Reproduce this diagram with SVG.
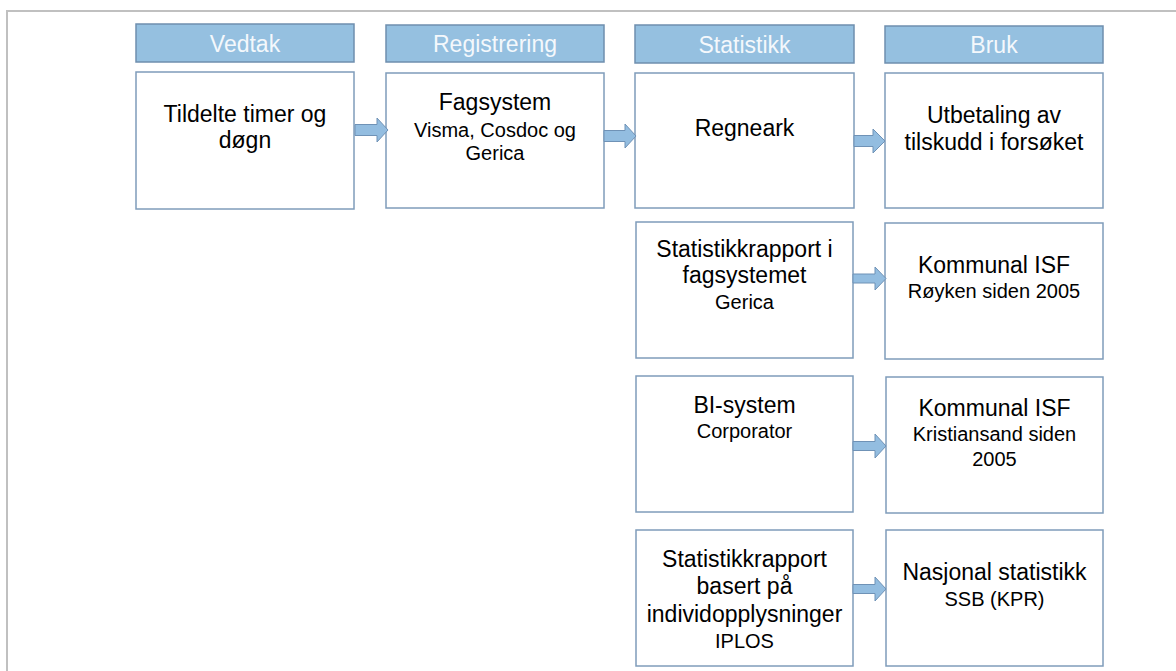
<svg xmlns="http://www.w3.org/2000/svg" width="1176" height="671" viewBox="0 0 1176 671">
<style>
.frame{fill:none;stroke:#c0c0c0;stroke-width:2}
.hdr{fill:#95c0e0;stroke:#6f8fae;stroke-width:1.5}
.box{fill:#ffffff;stroke:#7f9cba;stroke-width:1.5}
.arr{fill:#93bde0;stroke:#6f92b6;stroke-width:1}
.ht{font-family:"Liberation Sans",Arial,sans-serif;font-size:23px;fill:#f4f8fc;text-anchor:middle}
.t{font-family:"Liberation Sans",Arial,sans-serif;font-size:23px;fill:#000;text-anchor:middle}
.s{font-family:"Liberation Sans",Arial,sans-serif;font-size:20px;fill:#000;text-anchor:middle}
</style>
<rect width="1176" height="671" fill="#ffffff"/>
<path class="frame" d="M7,671 V11 H1176"/>
<g id="hdr-vedtak"><rect class="hdr" x="136" y="24" width="218" height="38"/><text class="ht" x="245" y="52">Vedtak</text></g>
<g id="hdr-registrering"><rect class="hdr" x="386" y="25" width="218" height="37"/><text class="ht" x="495" y="52">Registrering</text></g>
<g id="hdr-statistikk"><rect class="hdr" x="635" y="25" width="219" height="38"/><text class="ht" x="744.5" y="52.5">Statistikk</text></g>
<g id="hdr-bruk"><rect class="hdr" x="885" y="26" width="218" height="37"/><text class="ht" x="994" y="53">Bruk</text></g>

<g id="n-vedtak"><rect class="box" x="136" y="72" width="218" height="137"/><text class="t" x="245" y="122">Tildelte timer og</text><text class="t" x="245" y="148">døgn</text></g>
<g id="n-fagsystem"><rect class="box" x="386" y="73" width="218" height="135"/><text class="t" x="495" y="110">Fagsystem</text><text class="s" x="495" y="137">Visma, Cosdoc og</text><text class="s" x="495" y="160">Gerica</text></g>
<g id="n-regneark"><rect class="box" x="635" y="73" width="219" height="135"/><text class="t" x="744.5" y="136">Regneark</text></g>
<g id="n-utbetaling"><rect class="box" x="885" y="73" width="218" height="135"/><text class="t" x="994" y="123">Utbetaling av</text><text class="t" x="994" y="150">tilskudd i forsøket</text></g>
<g id="n-statrapport"><rect class="box" x="636" y="222" width="217" height="136"/><text class="t" x="744.5" y="257">Statistikkrapport i</text><text class="t" x="744.5" y="283">fagsystemet</text><text class="s" x="744.5" y="309">Gerica</text></g>
<g id="n-kommunal-royken"><rect class="box" x="885" y="223" width="218" height="136"/><text class="t" x="994" y="273">Kommunal ISF</text><text class="s" x="994" y="298">Røyken siden 2005</text></g>
<g id="n-bi"><rect class="box" x="636" y="376" width="217" height="136"/><text class="t" x="744.5" y="413">BI-system</text><text class="s" x="744.5" y="438">Corporator</text></g>
<g id="n-kommunal-krs"><rect class="box" x="886" y="377" width="217" height="136"/><text class="t" x="994.5" y="416">Kommunal ISF</text><text class="s" x="994.5" y="441">Kristiansand siden</text><text class="s" x="994.5" y="466">2005</text></g>
<g id="n-iplos"><rect class="box" x="636" y="530" width="217" height="136"/><text class="t" x="744.5" y="567">Statistikkrapport</text><text class="t" x="744.5" y="594">basert på</text><text class="t" x="744.5" y="622">individopplysninger</text><text class="s" x="744.5" y="648">IPLOS</text></g>
<g id="n-nasjonal"><rect class="box" x="886" y="530" width="217" height="136"/><text class="t" x="994.5" y="580">Nasjonal statistikk</text><text class="s" x="994.5" y="606">SSB (KPR)</text></g>

<g id="connectors">
<path class="arr" d="M355,124.5 H377 V118 L388,130 L377,142 V135.5 H355 Z"/>
<path class="arr" d="M604,130.5 H625 V124 L636,136 L625,148 V141.5 H604 Z"/>
<path class="arr" d="M854,135.5 H873 V129 L885,141 L873,153 V146.5 H854 Z"/>
<path class="arr" d="M853,274 H875 V267 L886,278.5 L875,290 V283 H853 Z"/>
<path class="arr" d="M853,441.5 H875 V434 L886,446 L875,458 V450.5 H853 Z"/>
<path class="arr" d="M853,584.5 H875 V577 L886,589 L875,601 V593.5 H853 Z"/>
</g>
</svg>
